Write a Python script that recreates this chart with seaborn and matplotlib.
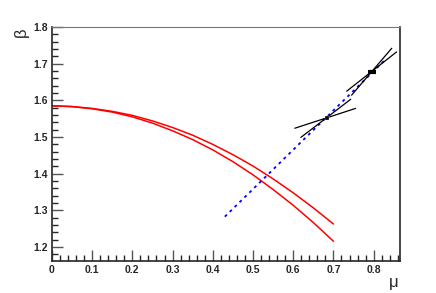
import numpy as np
import pandas as pd
import seaborn as sns
import matplotlib.pyplot as plt
from matplotlib.ticker import MultipleLocator, FormatStrFormatter, FuncFormatter

# red curves
mu_red = [0.0, 0.05, 0.1, 0.15, 0.2, 0.25, 0.3, 0.35, 0.4, 0.45, 0.5, 0.55, 0.6, 0.65, 0.7]
beta_upper = [1.585, 1.583, 1.578, 1.570, 1.559, 1.544, 1.526, 1.505, 1.480, 1.452, 1.421, 1.386, 1.348, 1.307, 1.263]
beta_lower = [1.585, 1.583, 1.577, 1.568, 1.555, 1.538, 1.517, 1.493, 1.465, 1.433, 1.397, 1.357, 1.314, 1.267, 1.216]

# blue dotted line
mu_blue = [0.43, 0.83]
beta_blue = [1.283, 1.712]

# black segments (two crosses)
seg_mu0 = [0.604, 0.619, 0.733, 0.745]
seg_b0 = [1.524, 1.499, 1.625, 1.614]
seg_mu1 = [0.755, 0.743, 0.857, 0.845]
seg_b1 = [1.578, 1.603, 1.732, 1.742]
center_mu = [0.683, 0.795]
center_beta = [1.551, 1.677]

sns.set_style("ticks")
plt.rcParams['font.family'] = ['Liberation Sans', 'DejaVu Sans']

fig = plt.figure(figsize=(4.36, 2.93), dpi=100)
ax = fig.add_axes([0.119, 0.109, 0.798, 0.799])

red = pd.DataFrame({"mu": mu_red * 2,
                    "beta": beta_upper + beta_lower,
                    "curve": ["upper"] * len(mu_red) + ["lower"] * len(mu_red)})
sns.lineplot(data=red, x="mu", y="beta", units="curve", estimator=None,
             color="red", lw=1.1, ax=ax, sort=False)

sns.lineplot(x=mu_blue, y=beta_blue, color="blue", lw=1.3, ls=(0, (1.6, 2.2)), ax=ax)

segs = pd.DataFrame({"mu": seg_mu0 + seg_mu1,
                     "beta": seg_b0 + seg_b1,
                     "seg": list(range(4)) * 2})
sns.lineplot(data=segs, x="mu", y="beta", units="seg", estimator=None,
             color="black", lw=0.9, ax=ax, sort=False)
sns.scatterplot(x=center_mu[:1], y=center_beta[:1], color="black", marker="s", s=6, ax=ax, zorder=5)
sns.scatterplot(x=center_mu[1:], y=center_beta[1:], color="black", marker="_", s=40,
                linewidths=3, ax=ax, zorder=5)

ax.set_xlim(0, 0.865)
ax.set_ylim(1.162, 1.8)
ax.xaxis.set_major_locator(MultipleLocator(0.1))
ax.xaxis.set_minor_locator(MultipleLocator(0.02))
ax.yaxis.set_major_locator(MultipleLocator(0.1))
ax.yaxis.set_minor_locator(MultipleLocator(0.02))
ax.xaxis.set_major_formatter(FuncFormatter(lambda v, p: "0" if abs(v) < 1e-9 else f"{v:.1f}"))
ax.yaxis.set_major_formatter(FormatStrFormatter("%.1f"))
ax.tick_params(which="both", direction="in", top=False, right=False, labelsize=7.5, pad=3)
ax.tick_params(which="major", length=8, width=1, color="#555555")
ax.tick_params(which="minor", length=4, width=1)
for lab in ax.get_xticklabels() + ax.get_yticklabels():
    lab.set_fontweight("bold")
for s in ["left", "bottom", "right"]:
    ax.spines[s].set_linewidth(1.2)
ax.spines["top"].set_linewidth(0.8)
ax.spines["top"].set_color("#777777")
ax.set_xlabel("")
ax.set_ylabel("")

fig.text(0.048, 0.89, "β", rotation=90, fontsize=12, ha="center", va="center")
fig.text(0.902, 0.035, "μ", fontsize=12, ha="center", va="center")

fig.savefig("out.png", dpi=100)
